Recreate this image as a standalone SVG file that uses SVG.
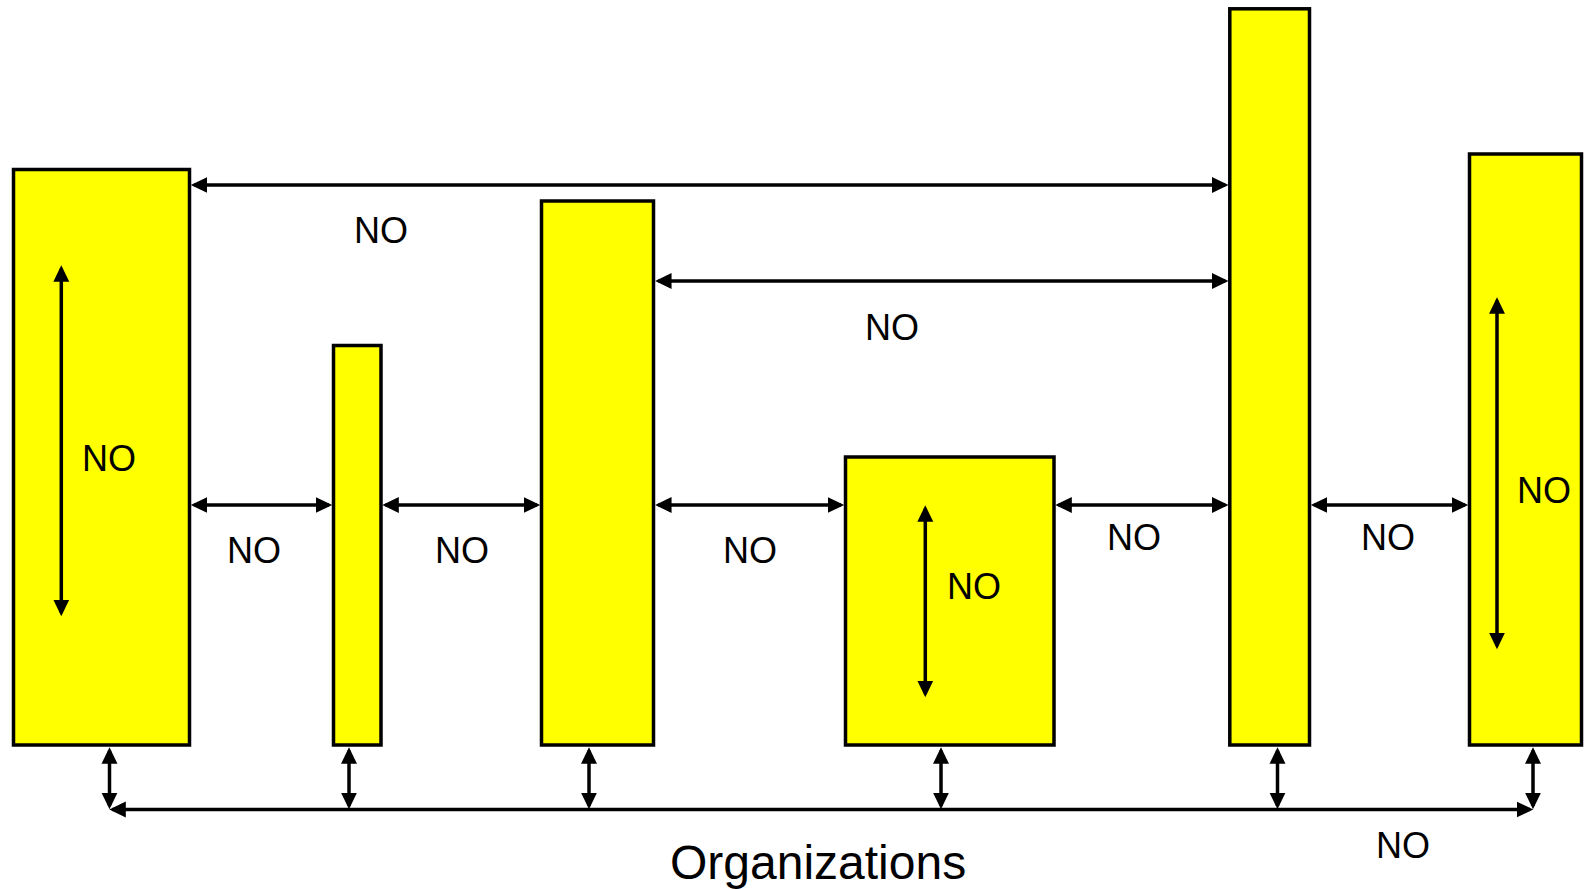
<svg xmlns="http://www.w3.org/2000/svg" width="1587" height="889" viewBox="0 0 1587 889">
  <style>
    .box { fill: #FFFF00; stroke: #000; stroke-width: 3.5; }
    .link { stroke: #000; stroke-width: 3.5; fill: none; marker-start: url(#head); marker-end: url(#head); }
    .lbl { font-family: "Liberation Sans", Arial, sans-serif; font-size: 36px; fill: #000; }
    .title { font-family: "Liberation Sans", Arial, sans-serif; font-size: 48px; fill: #000; }
  </style>
  <defs>
    <marker id="head" markerUnits="userSpaceOnUse" markerWidth="17" markerHeight="17" viewBox="0 0 16 16" refX="12.5" refY="8" orient="auto-start-reverse">
      <path d="M0,0.5 L15.5,8 L0,15.5 z" fill="#000"/>
    </marker>
  </defs>
  <rect width="1587" height="889" fill="#fff"/>

  <!-- organization blocks -->
  <g id="org1">
    <rect class="box" x="13.5" y="169.5" width="176" height="575.5"/>
    <text class="lbl" x="82" y="471">NO</text>
  </g>
  <g id="org2">
    <rect class="box" x="333.5" y="345.5" width="47.5" height="399.5"/>
  </g>
  <g id="org3">
    <rect class="box" x="541.5" y="201" width="112" height="544"/>
  </g>
  <g id="org4">
    <rect class="box" x="845.5" y="457" width="208.5" height="288"/>
    <text class="lbl" x="947" y="599">NO</text>
  </g>
  <g id="org5">
    <rect class="box" x="1229.8" y="8.8" width="79.7" height="736.2"/>
  </g>
  <g id="org6">
    <rect class="box" x="1469.5" y="154" width="112" height="591"/>
    <text class="lbl" x="1517" y="503">NO</text>
  </g>

  <!-- relations between blocks -->
  <g id="connectors">
    <!-- internal -->
    <line class="link" x1="61.3" y1="268.5" x2="61.3" y2="613"/>
    <line class="link" x1="925.3" y1="508.5" x2="925.3" y2="694"/>
    <line class="link" x1="1497" y1="300.5" x2="1497" y2="646"/>
    <!-- long spans -->
    <line class="link" x1="194" y1="185" x2="1225.3" y2="185"/>
    <line class="link" x1="658.3" y1="281" x2="1225.3" y2="281"/>
    <!-- neighbours -->
    <line class="link" x1="194" y1="505" x2="329" y2="505"/>
    <line class="link" x1="385.5" y1="505" x2="537" y2="505"/>
    <line class="link" x1="658.3" y1="505" x2="841" y2="505"/>
    <line class="link" x1="1058.5" y1="505" x2="1225.3" y2="505"/>
    <line class="link" x1="1314" y1="505" x2="1465" y2="505"/>
    <!-- shared bus -->
    <line class="link" x1="112.5" y1="809.5" x2="1530" y2="809.5"/>
    <line class="link" x1="109.5" y1="750.5" x2="109.5" y2="806"/>
    <line class="link" x1="349" y1="750.5" x2="349" y2="806"/>
    <line class="link" x1="589" y1="750.5" x2="589" y2="806"/>
    <line class="link" x1="941" y1="750.5" x2="941" y2="806"/>
    <line class="link" x1="1277.5" y1="750.5" x2="1277.5" y2="806"/>
    <line class="link" x1="1533" y1="750.5" x2="1533" y2="806"/>
  </g>

  <g id="labels">
    <text class="lbl" x="354" y="243">NO</text>
    <text class="lbl" x="865" y="340">NO</text>
    <text class="lbl" x="227" y="563">NO</text>
    <text class="lbl" x="435" y="563">NO</text>
    <text class="lbl" x="723" y="563">NO</text>
    <text class="lbl" x="1107" y="550">NO</text>
    <text class="lbl" x="1361" y="550">NO</text>
    <text class="lbl" x="1376" y="858">NO</text>
    <text class="title" x="670" y="879">Organizations</text>
  </g>
</svg>
